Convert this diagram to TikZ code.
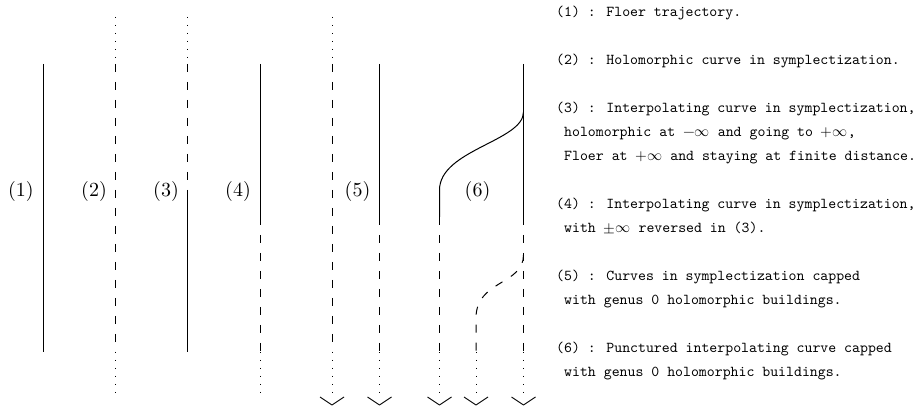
\documentclass[tikz,border=0pt]{standalone}
\usepackage{fontspec}
\usepackage{unicode-math}
\setmainfont{lmroman10-regular.otf}
\setmonofont{lmmono10-regular.otf}
\usetikzlibrary{calc}
\tikzset{
  solidseg/.style={line width=1pt},
  dashseg/.style={line width=1pt, dash pattern=on 8pt off 10pt},
  dotseg/.style={line width=1pt, dash pattern=on 1.4pt off 6.6pt},
  vtip/.style={line width=0.9pt, line join=round},
  lab/.style={inner sep=0pt, anchor=base, font=\fontsize{20}{24}\selectfont},
  desc/.style={inner sep=0pt, anchor=base west, font=\fontsize{15.1}{24}\selectfont\ttfamily},
}
\begin{document}
\begin{tikzpicture}[x=1pt,y=-1pt]
\useasboundingbox (0,0) rectangle (919,411);
% column coordinates
\foreach \n/\x in {1/43,2/115.5,3/187.5,4/260,5a/332,5b/379.5,6l/439.5,6m/476,6r/523.5}{
  \coordinate (top\n) at (\x,17);
  \coordinate (hi\n) at (\x,64);
  \coordinate (mid\n) at (\x,217);
  \coordinate (lo\n) at (\x,352);
  \coordinate (bot\n) at (\x,395);
  \coordinate (tip\n) at (\x,405);
}
\coordinate (sw3) at (187.5,198);
\coordinate (c6a) at (439.5,190);
\coordinate (c6b) at (523.5,112);
\coordinate (d6a) at (523.5,255);
\coordinate (d6b) at (476,318);

% labels
\node[lab] (L1) at (21,197) {(1)};
\node[lab] (L2) at (94,197) {(2)};
\node[lab] (L3) at (166,197) {(3)};
\node[lab] (L4) at (238,197) {(4)};
\node[lab] (L5) at (357.5,197) {(5)};
\node[lab] (L6) at (477.5,197) {(6)};

% (1)
\draw[solidseg] (hi1) -- (lo1);
% (2)
\draw[dotseg] (top2) -- (hi2);
\draw[dashseg] (hi2) -- (lo2);
\draw[dotseg] (lo2) -- (bot2);
% (3)
\draw[dotseg] (top3) -- (hi3);
\draw[dashseg] (hi3) -- (sw3);
\draw[solidseg] (sw3) -- (lo3);
% (4)
\draw[solidseg] (hi4) -- (mid4);
\draw[dashseg] (mid4) -- (lo4);
\draw[dotseg] (lo4) -- (bot4);
% (5)
\draw[dotseg] (top5a) -- (hi5a);
\draw[dashseg] (hi5a) -- (lo5a);
\draw[dotseg] (lo5a) -- (bot5a);
\draw[solidseg] (hi5b) -- (mid5b);
\draw[dashseg] (mid5b) -- (lo5b);
\draw[dotseg] (lo5b) -- (bot5b);
% (6)
\draw[solidseg] (hi6r) -- (mid6r);
\draw[dashseg] (mid6r) -- (lo6r);
\draw[dotseg] (lo6r) -- (bot6r);
\draw[solidseg] (c6b) .. controls (523.5,141) and (439.5,150) .. (c6a) -- (mid6l);
\draw[dashseg] (mid6l) -- (lo6l);
\draw[dotseg] (lo6l) -- (bot6l);
\draw[dashseg] (d6a) .. controls (523.5,285) and (476,280) .. (d6b) -- (lo6m);
\draw[dotseg] (lo6m) -- (bot6m);

% arrow tips
\foreach \n in {5a,5b,6l,6m,6r}{
  \draw[vtip] ($(tip\n)+(-12,-8)$) -- (tip\n) -- ($(tip\n)+(12,-8)$);
}

% descriptions
\node[desc] (t1) at (556,17) {(1) : Floer trajectory.};
\node[desc] (t2) at (556,65) {(2) : Holomorphic curve in symplectization.};
\node[desc] (t3a) at (556,113) {(3) : Interpolating curve in symplectization,};
\node[desc] (t3b) at (564,137) {holomorphic at $-\infty$ and going to $+\infty$,};
\node[desc] (t3c) at (564,161) {Floer at $+\infty$ and staying at finite distance.};
\node[desc] (t4a) at (556,209) {(4) : Interpolating curve in symplectization,};
\node[desc] (t4b) at (564,233) {with $\pm\infty$ reversed in (3).};
\node[desc] (t5a) at (556,281) {(5) : Curves in symplectization capped};
\node[desc] (t5b) at (564,305) {with genus 0 holomorphic buildings.};
\node[desc] (t6a) at (556,353) {(6) : Punctured interpolating curve capped};
\node[desc] (t6b) at (564,377) {with genus 0 holomorphic buildings.};
\end{tikzpicture}
\end{document}
